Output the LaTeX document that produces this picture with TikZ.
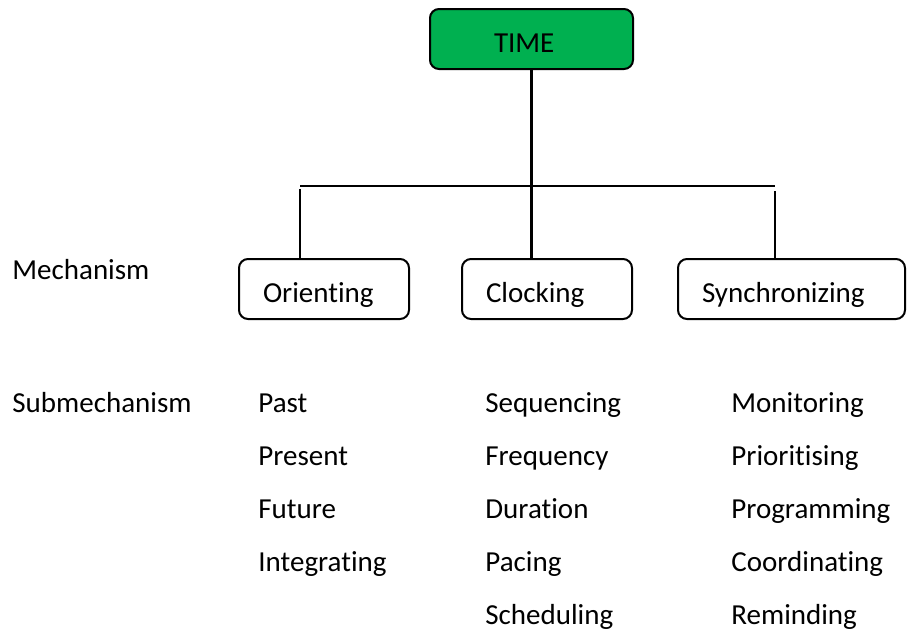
\documentclass[tikz,border=0pt]{standalone}
\usepackage{fontspec}
\setmainfont{Carlito}[Ligatures=NoCommon]
\definecolor{timegreen}{HTML}{00B050}
\begin{document}
\begin{tikzpicture}[x=0.5pt,y=-0.5pt,
  font=\fontsize{14.5}{17}\selectfont,
  box/.style={draw=black,line width=1pt,rounded corners=4.5pt,minimum height=30pt,
    inner xsep=12pt,inner ysep=0pt,text height=14pt,text depth=1pt,align=left},
  lbl/.style={anchor=base west,inner sep=0pt},
  link/.style={line width=1.4pt}]
  \useasboundingbox (0,0) rectangle (907,633);
  \node[box,fill=timegreen,inner xsep=32pt,text width=37.5pt] (time) at (531.5,39) {TIME};
  \node[box,text width=61pt] (orient) at (324,289) {Orienting};
  \node[box,text width=61pt] (clock) at (547,289) {Clocking};
  \node[box,text width=89.5pt] (sync) at (791.5,289) {Synchronizing};
  \coordinate (barL) at (300,186);
  \coordinate (barR) at (775,186);
  \draw[link] (barL) -- (barR);
  \draw[link] (time.south) -- (time.south |- clock.north);
  \draw[link] ([yshift=-1.5pt]barL) -- (barL |- orient.north);
  \draw[link] ([yshift=-2.5pt]barR) -- (barR |- sync.north);
  \node[lbl] (mech) at (12,279) {Mechanism};
  \node[lbl] (submech) at (12,412) {Submechanism};
  \foreach \t [count=\i from 0] in {Past,Present,Future,Integrating}
    \node[lbl] (orient-\i) at (258,412+53*\i) {\t};
  \foreach \t [count=\i from 0] in {Sequencing,Frequency,Duration,Pacing,Scheduling}
    \node[lbl] (clock-\i) at (485,412+53*\i) {\t};
  \foreach \t [count=\i from 0] in {Monitoring,Prioritising,Programming,Coordinating,Reminding}
    \node[lbl] (sync-\i) at (731,412+53*\i) {\t};
\end{tikzpicture}
\end{document}
